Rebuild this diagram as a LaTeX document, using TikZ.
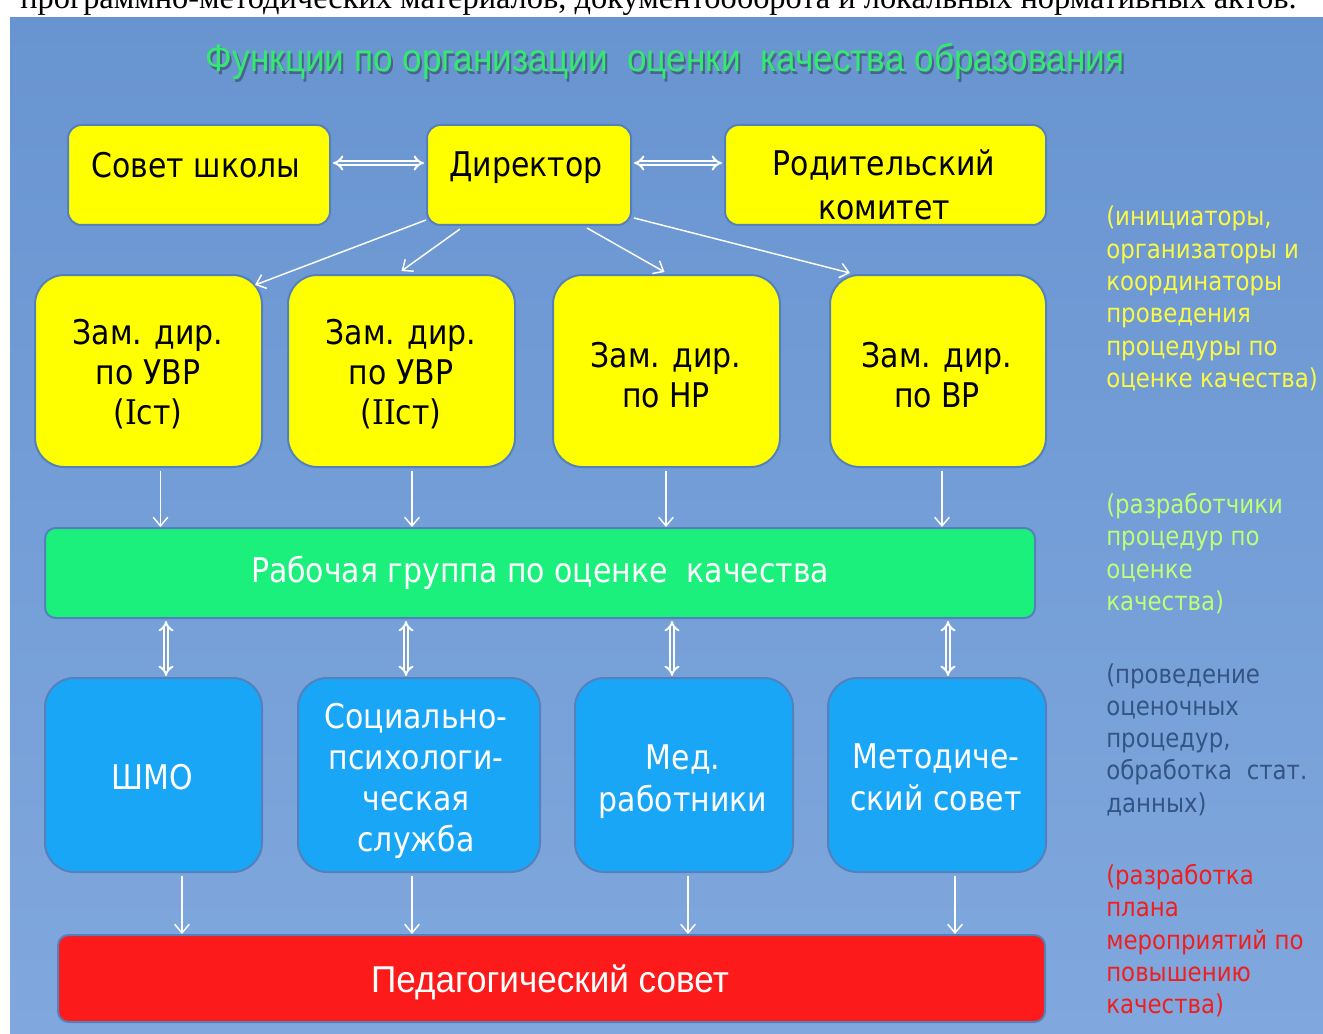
\documentclass[tikz,border=0pt]{standalone}
\usepackage{fontspec}
\setmainfont{DejaVu Sans}[FakeStretch=0.88]
\newfontfamily\narrowfont{Liberation Sans}[FakeStretch=0.91]
\newfontfamily\redfont{Liberation Sans}[FakeStretch=0.94]
\newfontfamily\serifont{Liberation Serif}
\newfontfamily\dvserif{DejaVu Serif}[FakeStretch=0.88]
\usetikzlibrary{arrows.meta,calc}
\definecolor{bgtop}{RGB}{104,148,208}
\definecolor{bgbot}{RGB}{128,168,222}
\definecolor{boxedge}{RGB}{84,128,188}
\definecolor{yfill}{RGB}{255,255,0}
\definecolor{gfill}{RGB}{28,240,124}
\definecolor{bfill}{RGB}{26,166,246}
\definecolor{rfill}{RGB}{252,26,26}
\definecolor{titlegreen}{RGB}{52,232,112}
\definecolor{titleshadow}{RGB}{58,80,112}
\definecolor{sideyellow}{RGB}{250,250,70}
\definecolor{sidegreen}{RGB}{190,255,120}
\definecolor{sideblue}{RGB}{52,84,132}
\definecolor{sidered}{RGB}{240,30,30}
\definecolor{arrgap}{RGB}{118,158,214}
\tikzset{
  wh/.style 2 args={minimum width=#1*0.75pt, minimum height=#2*0.75pt},
  mybox/.style={draw=boxedge, line width=1.5pt, align=center, inner sep=0pt,
    font=\fontsize{25.5}{30}\selectfont},
  ybox/.style={mybox, fill=yfill, text=black},
  gbox/.style={mybox, fill=gfill, text=white},
  bbox/.style={mybox, fill=bfill, text=white},
  rbox/.style={mybox, fill=rfill, text=white},
  ytext/.style={inner sep=0pt, align=center, text=black, font=\fontsize{25.5}{33}\selectfont},
  btext/.style={inner sep=0pt, align=center, text=white, font=\fontsize{25.5}{31}\selectfont},
  thinarrow/.style={draw=white, line width=1.1pt, -{Straight Barb[length=6.5pt, width=11pt]}},
  dblarrow/.style={draw=white, line width=1.5pt, double=arrgap, double distance=2.2pt, {Implies}-{Implies}},
  side/.style={anchor=north west, inner sep=0pt, align=left, font=\fontsize{19.5}{24.2}\selectfont},
}
\begin{document}
\begin{tikzpicture}[x=0.75pt,y=-0.75pt]
\useasboundingbox (0,0) rectangle (1323,1034);
\fill[white] (0,0) rectangle (1323,1034);
\shade[top color=bgtop, bottom color=bgbot] (10,18) rectangle (1323,1034);
\begin{scope}
  \clip (0,0) rectangle (1323,18);
  \node[anchor=base west, inner sep=0pt, font=\serifont\fontsize{24.3}{24}\selectfont] (toptext) at (20,9)
    {программно-методических материалов, документооборота и локальных нормативных актов.};
\end{scope}
% title
\node[text=titleshadow, opacity=0.7, font=\narrowfont\fontsize{29}{29}\selectfont] (titleshade) at (667,64)
  {Функции по организации\ \ оценки\ \ качества образования};
\node[text=titlegreen, font=\narrowfont\fontsize{29}{29}\selectfont] (title) at (665,61)
  {Функции по организации\ \ оценки\ \ качества образования};
% top row
\node[ybox, wh={262}{100}, rounded corners=10pt] (sovet) at (199,175) {};
\node[ybox, wh={204}{100}, rounded corners=10pt] (dir) at (529,175) {};
\node[ybox, wh={321}{100}, rounded corners=10pt] (rod) at (885.5,175) {};
\node[ytext] (sovet-t) at (196,165) {Совет школы};
\node[ytext] (dir-t) at (526,168) {Директор};
\node[ytext] (rod-t) at (884,185) {Родительский\\комитет};
% deputies
\node[ybox, wh={227}{192}, rounded corners=22pt] (z1) at (148.5,371) {};
\node[ybox, wh={227}{192}, rounded corners=22pt] (z2) at (401.5,371) {};
\node[ybox, wh={227}{192}, rounded corners=22pt] (z3) at (666.5,371) {};
\node[ybox, wh={216}{192}, rounded corners=22pt] (z4) at (938,371) {};
\node[ytext, font=\fontsize{25.5}{30}\selectfont] (z1-t) at (148,374) {Зам. дир.\\по УВР\\({\dvserif I}ст)};
\node[ytext, font=\fontsize{25.5}{30}\selectfont] (z2-t) at (401,374) {Зам. дир.\\по УВР\\({\dvserif II}ст)};
\node[ytext, font=\fontsize{25.5}{30}\selectfont] (z3-t) at (666,375) {Зам. дир.\\по НР};
\node[ytext, font=\fontsize{25.5}{30}\selectfont] (z4-t) at (937,375) {Зам. дир.\\по ВР};
% working group
\node[gbox, wh={990}{90}, rounded corners=8pt] (green) at (540,573) {Рабочая группа по оценке\ \ качества};
% executors
\node[bbox, wh={217}{194}, rounded corners=22pt] (b1) at (153.5,775) {};
\node[bbox, wh={242}{194}, rounded corners=22pt] (b2) at (419,775) {};
\node[bbox, wh={218}{194}, rounded corners=22pt] (b3) at (684,775) {};
\node[bbox, wh={218}{194}, rounded corners=22pt] (b4) at (937,775) {};
\node[btext] (b1-t) at (152,777) {ШМО};
\node[btext, font=\fontsize{25.5}{30.75}\selectfont] (b2-t) at (416,781) {Социально-\\психологи-\\ческая\\служба};
\node[btext, font=\fontsize{25.5}{31.5}\selectfont] (b3-t) at (683,782) {Мед.\\работники};
\node[btext, font=\fontsize{25.5}{31.5}\selectfont] (b4-t) at (936,777) {Методиче-\\ский совет};
% council
\node[rbox, wh={987}{87}, rounded corners=8pt] (red) at (551.5,978.5) {};
\node[btext, font=\redfont\fontsize{28}{30}\selectfont] (red-t) at (550,982) {Педагогический совет};
% top horizontal double arrows
\draw[dblarrow] ($(sovet.east)+(2,-12)$) -- ($(dir.west)+(-2,-12)$);
\draw[dblarrow] ($(dir.east)+(2,-12)$) -- ($(rod.west)+(-2,-12)$);
% director to deputies
\draw[thinarrow] ($(dir.south west)+(0,-6)$) -- ($(z1.north east)+(-8,11)$);
\draw[thinarrow] ($(dir.south)+(-69,3)$) -- ($(z2.north)+(0,-3)$);
\draw[thinarrow] ($(dir.south)+(58,2)$) -- ($(z3.north)+(-2,-2)$);
\draw[thinarrow] ($(dir.south east)+(2,-8)$) -- ($(z4.north west)+(21,-1)$);
% deputies to working group
\foreach \n/\dx in {z1/12,z2/10.5,z3/-0.5,z4/4}{
  \coordinate (\n-d) at ($(\n.south)+(\dx,0)$);
  \draw[thinarrow] ($(\n-d)+(0,3)$) -- (\n-d |- green.north);
}
% working group <-> executors
\foreach \n/\dx in {b1/12.5,b2/-13,b3/-12,b4/11}{
  \coordinate (\n-u) at ($(\n.north)+(\dx,0)$);
  \draw[dblarrow] ($(\n-u |- green.south)+(0,2)$) -- ($(\n-u)+(0,-1)$);
}
% executors to council
\foreach \n/\dx in {b1/28.5,b2/-7,b3/4,b4/18}{
  \coordinate (\n-d) at ($(\n.south)+(\dx,0)$);
  \draw[thinarrow] ($(\n-d)+(0,3)$) -- (\n-d |- red.north);
}
% side notes
\node[side, text=sideyellow] (s1) at (1106,206)
  {(инициаторы,\\организаторы и\\координаторы\\проведения\\процедуры по\\оценке качества)};
\node[side, text=sidegreen] (s2) at (1106,493)
  {(разработчики\\процедур по\\оценке\\качества)};
\node[side, text=sideblue] (s3) at (1106,663)
  {(проведение\\оценочных\\процедур,\\обработка\ \ стат.\\данных)};
\node[side, text=sidered] (s4) at (1106,864)
  {(разработка\\плана\\мероприятий по\\повышению\\качества)};
\end{tikzpicture}
\end{document}
